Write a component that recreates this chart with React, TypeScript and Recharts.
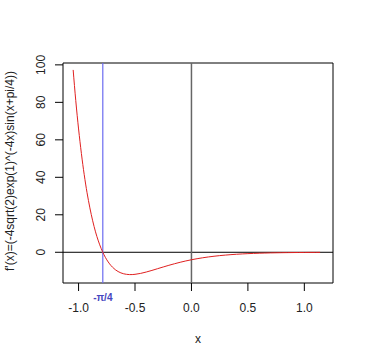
import { LineChart, Line, XAxis, YAxis, ReferenceLine, ReferenceArea } from 'recharts';

// values
const xs = [
  -1.048, -1.025, -1.0, -0.975, -0.95, -0.925, -0.9, -0.875, -0.85, -0.825, -0.8, -0.775, -0.75, -0.725, -0.7,
  -0.675, -0.65, -0.625, -0.6, -0.575, -0.55, -0.525, -0.5, -0.45, -0.4, -0.35, -0.3, -0.25, -0.2, -0.15, -0.1,
  -0.05, 0, 0.05, 0.1, 0.15, 0.2, 0.25, 0.3, 0.35, 0.4, 0.45, 0.5, 0.55, 0.6, 0.65, 0.7, 0.75, 0.8, 0.85, 0.9,
  0.95, 1.0, 1.05, 1.1, 1.14,
];
const ys = [
  97.3, 81.0, 65.8, 52.7, 41.4, 31.8, 23.7, 16.8, 10.9, 6.07, 2.03, -1.31, -4.02, -6.21, -7.93,
  -9.28, -10.28, -11.0, -11.49, -11.78, -11.91, -11.9, -11.77, -11.27, -10.53, -9.68, -8.76, -7.85, -6.96, -6.12, -5.34,
  -4.63, -4.0, -3.43, -2.94, -2.5, -2.12, -1.79, -1.51, -1.26, -1.06, -0.88, -0.73, -0.61, -0.5, -0.42, -0.34, -0.28, -0.23, -0.19, -0.15,
  -0.125, -0.1, -0.08, -0.066, -0.056,
];
const xTicks = [-1, -0.5, 0, 0.5, 1];
const yTicks = [0, 20, 40, 60, 80, 100];

const X_DOMAIN: [number, number] = [-1.138, 1.254];
const Y_DOMAIN: [number, number] = [-16.4, 101];
const FONT = 'Arial, "Liberation Sans", sans-serif';

const data = xs.map((x, i) => ({ x, y: ys[i] }));

function YTick(props: any) {
  const { y, payload } = props;
  return (
    <text
      x={45}
      y={y}
      transform={`rotate(-90, 45, ${y})`}
      textAnchor="middle"
      fontSize={12}
      fontFamily={FONT}
      fill="#222"
    >
      {payload.value}
    </text>
  );
}

export default function App() {
  return (
    <div style={{ position: 'absolute', left: 0, top: 0, width: 366, height: 362, background: '#fff' }}>
      <LineChart
        width={366}
        height={362}
        data={data}
        margin={{ top: 63, right: 33, left: 0, bottom: 0 }}
      >
        <XAxis
          dataKey="x"
          type="number"
          domain={X_DOMAIN}
          ticks={xTicks}
          allowDataOverflow
          tickFormatter={(v: number) => v.toFixed(1)}
          axisLine={false}
          tickLine={{ stroke: '#000' }}
          tickSize={8}
          tickMargin={12}
          height={79}
          tick={{ fontSize: 12, fontFamily: FONT, fill: '#222' }}
          label={{
            content: () => (
              <text x={198} y={343} textAnchor="middle" fontSize={12} fontFamily={FONT} fill="#222">
                x
              </text>
            ),
          }}
        />
        <YAxis
          type="number"
          domain={Y_DOMAIN}
          ticks={yTicks}
          allowDataOverflow
          axisLine={false}
          tickLine={{ stroke: '#000' }}
          tickSize={8}
          width={63}
          tick={<YTick />}
          label={{
            content: () => (
              <text
                x={14}
                y={171}
                transform="rotate(-90, 14, 171)"
                textAnchor="middle"
                fontSize={12}
                fontFamily={FONT}
                fill="#222"
              >
                f'(x)=(-4sqrt(2)exp(1)^(-4x)sin(x+pi/4))
              </text>
            ),
          }}
        />
        <ReferenceArea x1={X_DOMAIN[0]} x2={X_DOMAIN[1]} y1={Y_DOMAIN[0]} y2={Y_DOMAIN[1]} fill="none" stroke="#000" strokeWidth={1} fillOpacity={0} />
        <ReferenceLine y={0} stroke="#000" strokeWidth={1} />
        <ReferenceLine x={0} stroke="#666" strokeWidth={1.5} />
        <ReferenceLine
          x={-Math.PI / 4}
          stroke="#6b6bf0"
          strokeWidth={1.2}
          label={{ value: '-π/4', position: 'bottom', offset: 11, fill: '#4646c0', fontSize: 10, fontWeight: 'bold', fontFamily: FONT }}
        />
        <Line
          type="monotone"
          dataKey="y"
          stroke="#e02020"
          strokeWidth={1}
          dot={false}
          isAnimationActive={false}
        />
      </LineChart>
    </div>
  );
}
